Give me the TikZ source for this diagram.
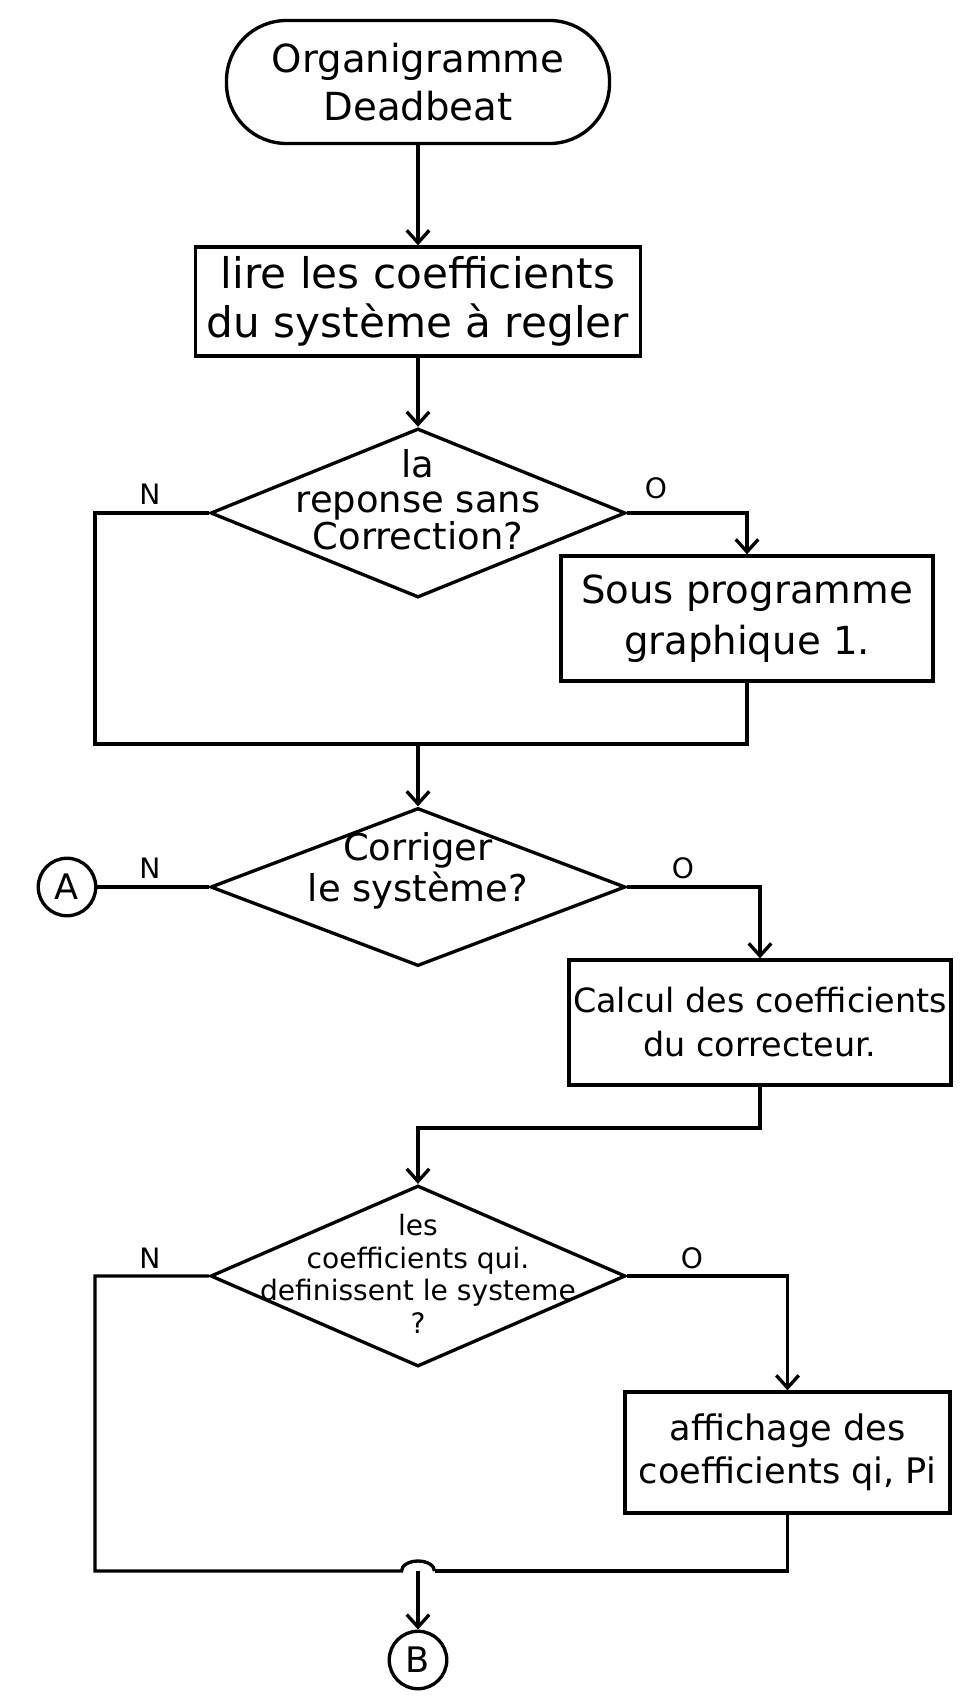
\documentclass[tikz,border=0pt]{standalone}
\usepackage{fontspec}
\setmainfont{DejaVu Sans}
\usetikzlibrary{shapes.geometric,arrows.meta}

\begin{document}
\begin{tikzpicture}[
  line width=1.9pt,
  >={Straight Barb[length=2.5mm,width=4.5mm]},
  terminal/.style={draw, rounded corners=1.2cm, minimum width=7.66cm, minimum height=2.46cm, align=center},
  process/.style={draw, rectangle, align=center, inner sep=0pt},
  decision/.style={draw, diamond, inner sep=0pt, minimum width=8.3cm},
  dtext/.style={align=center, inner sep=0pt},
  connector/.style={draw, circle, inner sep=0pt, minimum size=1.15cm, font=\fontsize{20}{20}\selectfont},
  branch/.style={font=\fontsize{16}{16}\selectfont}
]
  \fill[white] (0,0) rectangle (19.2,-34);
  \useasboundingbox (0,0) rectangle (19.2,-34);

  % boxes
  \node[terminal, font=\fontsize{22}{27}\selectfont] (start) at (8.36,-1.64) {Organigramme\\Deadbeat};
  \node[process, minimum width=8.9cm, minimum height=2.18cm, font=\fontsize{24}{28}\selectfont] (lire) at (8.36,-6.03) {lire les coefficients\\du système à regler};
  \node[decision, minimum height=3.38cm] (d1) at (8.36,-10.26) {};
  \node[dtext, font=\fontsize{21}{19.5}\selectfont] (d1t) at (8.36,-10.0) {la\\reponse sans\\Correction?};
  \node[process, minimum width=7.44cm, minimum height=2.5cm, font=\fontsize{22}{29}\selectfont] (sousprog) at (14.94,-12.37) {Sous programme\\graphique 1.};
  \node[decision, minimum height=3.16cm] (d2) at (8.36,-17.74) {};
  \node[dtext, font=\fontsize{21}{23.5}\selectfont] (d2t) at (8.36,-17.42) {Corriger\\le système?};
  \node[connector] (A) at (1.34,-17.74) {A};
  \node[process, minimum width=7.64cm, minimum height=2.5cm, font=\fontsize{19}{25}\selectfont] (calcul) at (15.2,-20.45) {Calcul des coefficients\\du correcteur.};
  \node[decision, minimum height=3.62cm] (d3) at (8.36,-25.52) {};
  \node[dtext, font=\fontsize{16}{18.5}\selectfont] (d3t) at (8.36,-25.48) {les\\coefficients qui.\\definissent le systeme\\?};
  \node[process, minimum width=6.5cm, minimum height=2.42cm, font=\fontsize{20}{24.5}\selectfont] (affich) at (15.75,-29.05) {affichage des\\coefficients qi, Pi};
  \node[connector] (B) at (8.36,-33.2) {B};

  % branch labels
  \node[branch] (n1) at (3.0,-9.88) {N};
  \node[branch] (o1) at (13.12,-9.76) {O};
  \node[branch] (n2) at (3.0,-17.36) {N};
  \node[branch] (o2) at (13.66,-17.36) {O};
  \node[branch] (n3) at (3.0,-25.16) {N};
  \node[branch] (o3) at (13.84,-25.16) {O};

  % corners of the loops
  \coordinate (l1) at (1.9,-14.88);
  \coordinate (m1) at (8.36,-14.88);
  \coordinate (m2) at (8.36,-22.56);
  \coordinate (l3) at (1.9,-31.42);
  \coordinate (m3) at (8.36,-31.42);

  % connectors
  \draw[->] (start) -- (lire);
  \draw[->] (lire) -- (d1);
  \draw[->] (d1.east) -| (sousprog.north);
  \draw (d1.west) -| (l1) -- (m1);
  \draw (sousprog.south) |- (m1);
  \draw[->] (m1) -- (d2.north);
  \draw (d2.west) -- (A.east);
  \draw[->] (d2.east) -| (calcul.north);
  \draw[->] (calcul.south) |- (m2) -- (d3.north);
  \draw[->] (d3.east) -| (affich.north);
  \draw (d3.west) -| (l3) -- ([xshift=-0.33cm]m3) arc[start angle=180, end angle=0, x radius=0.33cm, y radius=0.2cm];
  \draw (affich.south) |- ([xshift=0.33cm]m3);
  \draw[->] (m3) -- (B.north);
\end{tikzpicture}
\end{document}
